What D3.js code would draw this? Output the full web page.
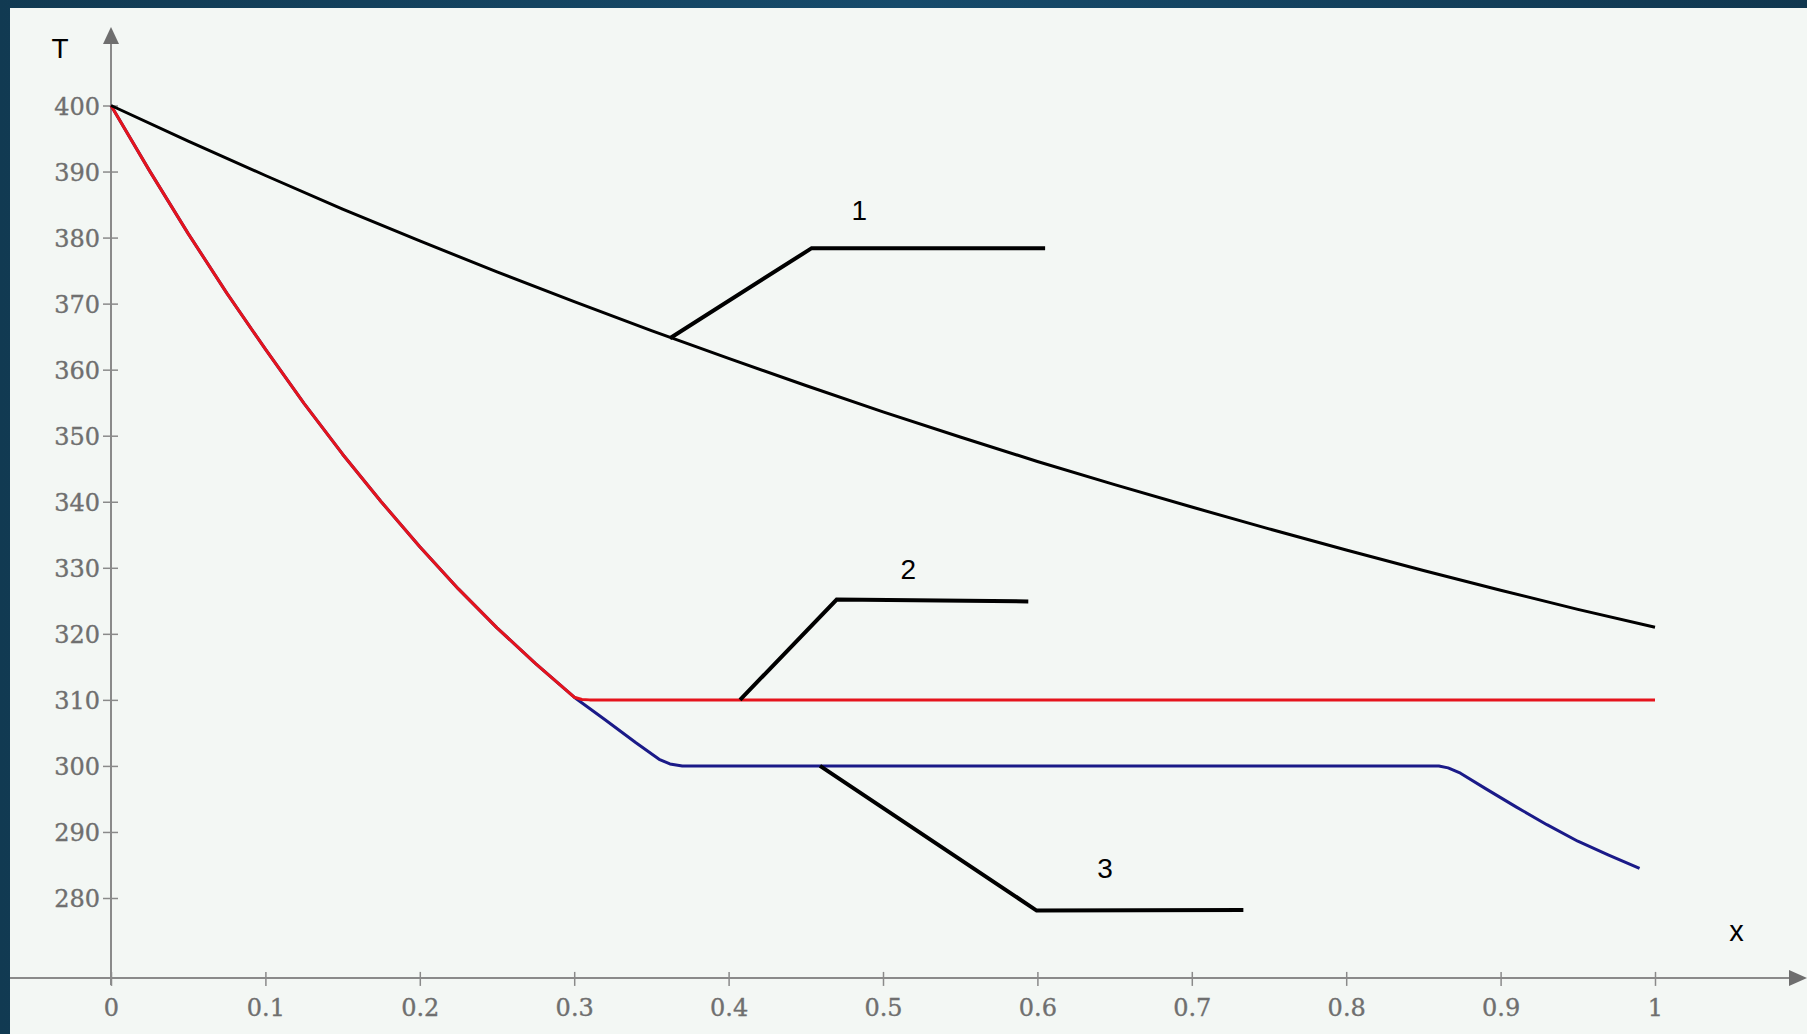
<!DOCTYPE html>
<html>
<head>
<meta charset="utf-8">
<script src="https://cdn.jsdelivr.net/npm/d3@7"></script>
<style>
  html, body { margin: 0; padding: 0; background: #13425c; }
  svg { display: block; }
</style>
</head>
<body>
<svg id="chart" width="1807" height="1034"></svg>
<script>
// ---------- data ----------
const xTickValues = [0, 0.1, 0.2, 0.3, 0.4, 0.5, 0.6, 0.7, 0.8, 0.9, 1];
const xTickLabels = ["0", "0.1", "0.2", "0.3", "0.4", "0.5", "0.6", "0.7", "0.8", "0.9", "1"];
const yTickValues = [280, 290, 300, 310, 320, 330, 340, 350, 360, 370, 380, 390, 400];

// curve 1 (black)
const curve1X = [0, 0.05, 0.1, 0.15, 0.2, 0.25, 0.3, 0.35, 0.4, 0.45, 0.5, 0.55, 0.6, 0.65, 0.7, 0.75, 0.8, 0.85, 0.9, 0.95, 1];
const curve1T = [400, 394.6, 389.4, 384.3, 379.5, 374.8, 370.3, 365.9, 361.7, 357.6, 353.6, 349.8, 346.1, 342.6, 339.2, 335.9, 332.7, 329.6, 326.6, 323.7, 321.0];

// curve 2 (red)
const curve2X = [0, 0.025, 0.05, 0.075, 0.1, 0.125, 0.15, 0.175, 0.2, 0.225, 0.25, 0.275, 0.3, 0.305, 0.31, 1.0];
const curve2T = [400, 390.1, 380.6, 371.6, 363.1, 354.9, 347.2, 340.0, 333.2, 326.8, 320.9, 315.5, 310.4, 310.05, 310, 310];

// curve 3 (blue)
const curve3X = [0, 0.025, 0.05, 0.075, 0.1, 0.125, 0.15, 0.175, 0.2, 0.225, 0.25, 0.275, 0.3, 0.32, 0.34, 0.355, 0.362, 0.37, 0.86, 0.866, 0.874, 0.89, 0.91, 0.93, 0.95, 0.97, 0.99];
const curve3T = [400, 390.1, 380.6, 371.6, 363.1, 354.9, 347.2, 340.0, 333.2, 326.8, 320.9, 315.5, 310.4, 307.0, 303.5, 301.0, 300.3, 300, 300, 299.7, 298.9, 296.6, 293.8, 291.1, 288.6, 286.5, 284.5];

// leader lines and their labels
const leaderNames = ["1", "2", "3"];
const leader1X = [0.362, 0.4538, 0.605];
const leader1T = [364.75, 378.4, 378.4];
const leader2X = [0.4074, 0.470, 0.5941];
const leader2T = [310, 325.2, 324.9];
const leader3X = [0.4592, 0.5995, 0.7334];
const leader3T = [300, 278.1, 278.2];
const labelX = [0.4847, 0.5164, 0.6438];
const labelT = [384.2, 329.8, 284.5];

const axisTitleX = "x";
const axisTitleY = "T";

// ---------- layout ----------
const W = 1807, H = 1034;
const svg = d3.select("#chart");

const defs = svg.append("defs");
const grad = defs.append("linearGradient").attr("id", "frame").attr("x1", "0").attr("x2", "1").attr("y1", "0").attr("y2", "0");
grad.append("stop").attr("offset", "0").attr("stop-color", "#113a52");
grad.append("stop").attr("offset", "0.5").attr("stop-color", "#164b6b");
grad.append("stop").attr("offset", "1").attr("stop-color", "#10374f");

svg.append("rect").attr("width", W).attr("height", H).attr("fill", "url(#frame)");
svg.append("rect").attr("x", 10).attr("y", 8).attr("width", W - 10).attr("height", H - 8).attr("fill", "#f3f7f4");

const x = d3.scaleLinear().domain([0, 1]).range([111, 1655]);
const y = d3.scaleLinear().domain([280, 400]).range([898, 105.5]);

const axisColor = "#8a8a8a";
const xAxisT = 267.9;   // where the horizontal axis crosses
const x0 = x(0), yAx = y(xAxisT);

// axes lines
const g = svg.append("g");
g.append("line").attr("x1", 10).attr("x2", 1794).attr("y1", yAx).attr("y2", yAx)
  .attr("stroke", axisColor).attr("stroke-width", 2);
g.append("line").attr("x1", x0).attr("x2", x0).attr("y1", yAx + 7).attr("y2", 40)
  .attr("stroke", axisColor).attr("stroke-width", 2);
// arrows
g.append("path").attr("d", `M${x0},27 L${x0 - 8},44 L${x0 + 8},44 Z`).attr("fill", "#6e6e6e");
g.append("path").attr("d", `M1807,${yAx} L1789,${yAx - 8} L1789,${yAx + 8} Z`).attr("fill", "#6e6e6e");

const tickFont = "'DejaVu Serif', serif";
const tickColor = "#6f6f6f";

// y axis via d3 axis
const yAxisG = svg.append("g").attr("transform", `translate(${x0},0)`)
  .call(d3.axisLeft(y).tickValues(yTickValues).tickSize(8).tickPadding(4).tickFormat(d3.format("d")));
yAxisG.select(".domain").remove();
yAxisG.selectAll(".tick line").attr("x1", -8).attr("x2", 7).attr("stroke", axisColor).attr("stroke-width", 1.5);
yAxisG.selectAll(".tick text").attr("font-family", tickFont).attr("font-size", 24)
  .attr("fill", tickColor).attr("stroke", tickColor).attr("stroke-width", 0.35)
  .attr("x", -11).attr("dy", "0.36em");

// x axis via d3 axis
const xAxisG = svg.append("g").attr("transform", `translate(0,${yAx})`)
  .call(d3.axisBottom(x).tickValues(xTickValues).tickSize(8)
    .tickFormat((d, i) => xTickLabels[i]));
xAxisG.select(".domain").remove();
xAxisG.selectAll(".tick line").attr("y1", -6).attr("y2", 8).attr("stroke", axisColor).attr("stroke-width", 1.5);
xAxisG.selectAll(".tick text").attr("font-family", tickFont).attr("font-size", 24)
  .attr("fill", tickColor).attr("stroke", tickColor).attr("stroke-width", 0.35)
  .attr("y", 38).attr("dy", 0);

// ---------- curves ----------
const line = d3.line().x(d => x(d[0])).y(d => y(d[1])).curve(d3.curveLinear);
const zip = (a, b) => a.map((v, i) => [v, b[i]]);

svg.append("path").datum(zip(curve3X, curve3T)).attr("d", line)
  .attr("fill", "none").attr("stroke", "#1a1a88").attr("stroke-width", 3).attr("stroke-linejoin", "round");
svg.append("path").datum(zip(curve2X, curve2T)).attr("d", line)
  .attr("fill", "none").attr("stroke", "#e5141c").attr("stroke-width", 3).attr("stroke-linejoin", "round");
svg.append("path").datum(zip(curve1X, curve1T)).attr("d", line)
  .attr("fill", "none").attr("stroke", "#000").attr("stroke-width", 3).attr("stroke-linejoin", "round");

// ---------- leader lines ----------
[[leader1X, leader1T], [leader2X, leader2T], [leader3X, leader3T]].forEach(([lx, lt]) => {
  svg.append("path").datum(zip(lx, lt)).attr("d", line)
    .attr("fill", "none").attr("stroke", "#000").attr("stroke-width", 4).attr("stroke-linejoin", "miter");
});
const labFs = 28;
svg.selectAll(".leaderLabel").data(leaderNames).enter().append("text")
  .attr("x", (d, i) => x(labelX[i])).attr("y", (d, i) => y(labelT[i]) + 0.36 * labFs)
  .attr("text-anchor", "middle").attr("font-family", "'Liberation Sans', Arial, sans-serif")
  .attr("font-size", labFs).attr("fill", "#000").text(d => d);

// axis titles
svg.append("text").attr("x", x0 - 51).attr("y", 47.5 + 0.36 * labFs).attr("text-anchor", "middle")
  .attr("font-family", "'Liberation Sans', Arial, sans-serif").attr("font-size", labFs).text(axisTitleY);
svg.append("text").attr("x", x(1.0528)).attr("y", y(274.7) + 0.27 * 29).attr("text-anchor", "middle")
  .attr("font-family", "'Liberation Sans', Arial, sans-serif").attr("font-size", 29).text(axisTitleX);
</script>
</body>
</html>
